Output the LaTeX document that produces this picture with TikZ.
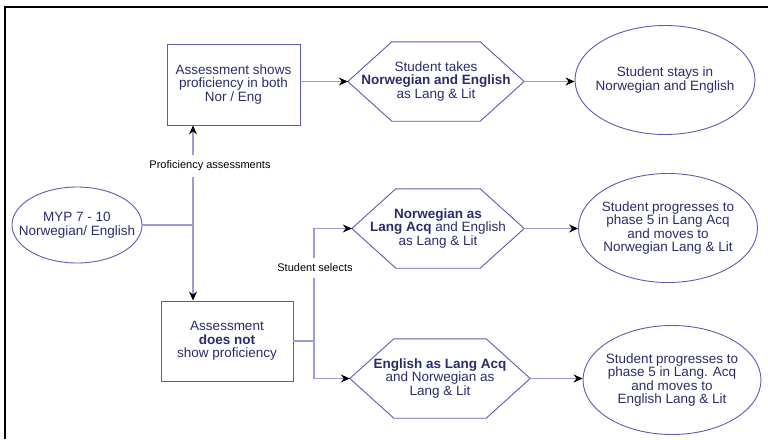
\documentclass[tikz,border=0pt]{standalone}
\usepackage{fontspec}
\setmainfont{Liberation Sans}
\usepackage{tikz}
\usetikzlibrary{arrows.meta,positioning}
\usetikzlibrary{shapes.geometric,calc}

\definecolor{edgeblue}{HTML}{5C5CB4}
\definecolor{lineblue}{HTML}{9C9CD4}
\definecolor{textblue}{HTML}{2B2B6B}

\tikzset{
	shapetext/.style={text=textblue, align=center, font=\fontsize{13.5}{13.6}\selectfont, inner sep=0pt},
	stepbox/.style={shapetext, draw=edgeblue, line width=0.9pt, rectangle},
	oval/.style={shapetext, draw=edgeblue, line width=0.9pt, ellipse, inner xsep=-15pt},
	hexa/.style={shapetext, rectangle, minimum height=79pt},
	hexline/.style={draw=edgeblue, line width=0.9pt, line join=miter},
	conn/.style={draw=lineblue, line width=1.1pt, -{Stealth[length=9pt, width=8pt, inset=3pt, color=black]}},
	plain/.style={draw=lineblue, line width=1.1pt},
	lbl/.style={fill=white, text=black, font=\fontsize{11}{12}\selectfont, inner xsep=2pt, inner ysep=6pt}
}

\begin{document}
\begin{tikzpicture}[x=1pt,y=-1pt]
		\useasboundingbox (0,0) rectangle (768,439);
		
		\draw[line width=2pt] (5,439) -- (5,7) -- (768,7);
		
		\node[oval, minimum width=130pt, minimum height=76pt] (myp) at (77,225) {MYP 7 - 10\\Norwegian/ English};
		
		\node[stepbox, minimum width=133pt, minimum height=81pt] (good) at (233.5,84.5) {Assessment shows\\proficiency in both\\Nor / Eng};
		\node[stepbox, minimum width=132pt, minimum height=80pt] (poor) at (227,341) {Assessment\\\textbf{does not}\\show proficiency};
		
		\node[hexa, minimum width=176pt] (both) at (436,81.5) {Student takes\\\textbf{Norwegian and English}\\as Lang \& Lit};
		\node[hexa, minimum width=172pt] (noracq) at (438,228.5) {\textbf{Norwegian as}\\\textbf{Lang Acq} and English\\as Lang \& Lit};
		\node[hexa, minimum width=180pt] (engacq) at (440,378.5) {\textbf{English as Lang Acq}\\and Norwegian as\\Lang \& Lit};
		
		% hexagon outlines round the three choice nodes
		\foreach \h in {both,noracq,engacq}
			\draw[hexline] (\h.west) -- ($(\h.north west)+(44,0)$) -- ($(\h.north east)-(44,0)$) -- (\h.east) -- ($(\h.south east)-(44,0)$) -- ($(\h.south west)+(44,0)$) -- cycle;
		
		\node[oval, minimum width=180pt, minimum height=109pt] (stay) at (665,80) {Student stays in\\Norwegian and English};
		\node[oval, minimum width=179pt, minimum height=109pt] (nor) at (668,228) {Student progresses to\\phase 5 in Lang Acq\\and moves to\\Norwegian Lang \& Lit};
		\node[oval, minimum width=178pt, minimum height=109pt] (eng) at (672,380) {Student progresses to\\phase 5 in Lang. Acq\\and moves to\\English Lang \& Lit};
		
		\coordinate (trunk) at (193,225);
		\coordinate (split) at (314,341);
		
		\draw[plain] (myp.east) -- (trunk);
		\draw[conn] (trunk) -- (trunk |- good.south);
		\draw[conn] (trunk) -- (trunk |- poor.north);
		
		\draw[plain] (poor.east) -- (split);
		\draw[conn] (split) |- (noracq.west);
		\draw[conn] (split) |- (engacq.west);
		
		\draw[conn] (good.east |- both.west) -- (both.west);
		\draw[conn] (both.east) -- (stay.west |- both.east);
		\draw[conn] (noracq.east) -- (nor.west |- noracq.east);
		\draw[conn] (engacq.east) -- (eng.west |- engacq.east);
		
		\node[lbl] (prof) at (210,166) {Proficiency assessments};
		\node[lbl] (sel) at (315,268) {Student selects};
		
\end{tikzpicture}
\end{document}
